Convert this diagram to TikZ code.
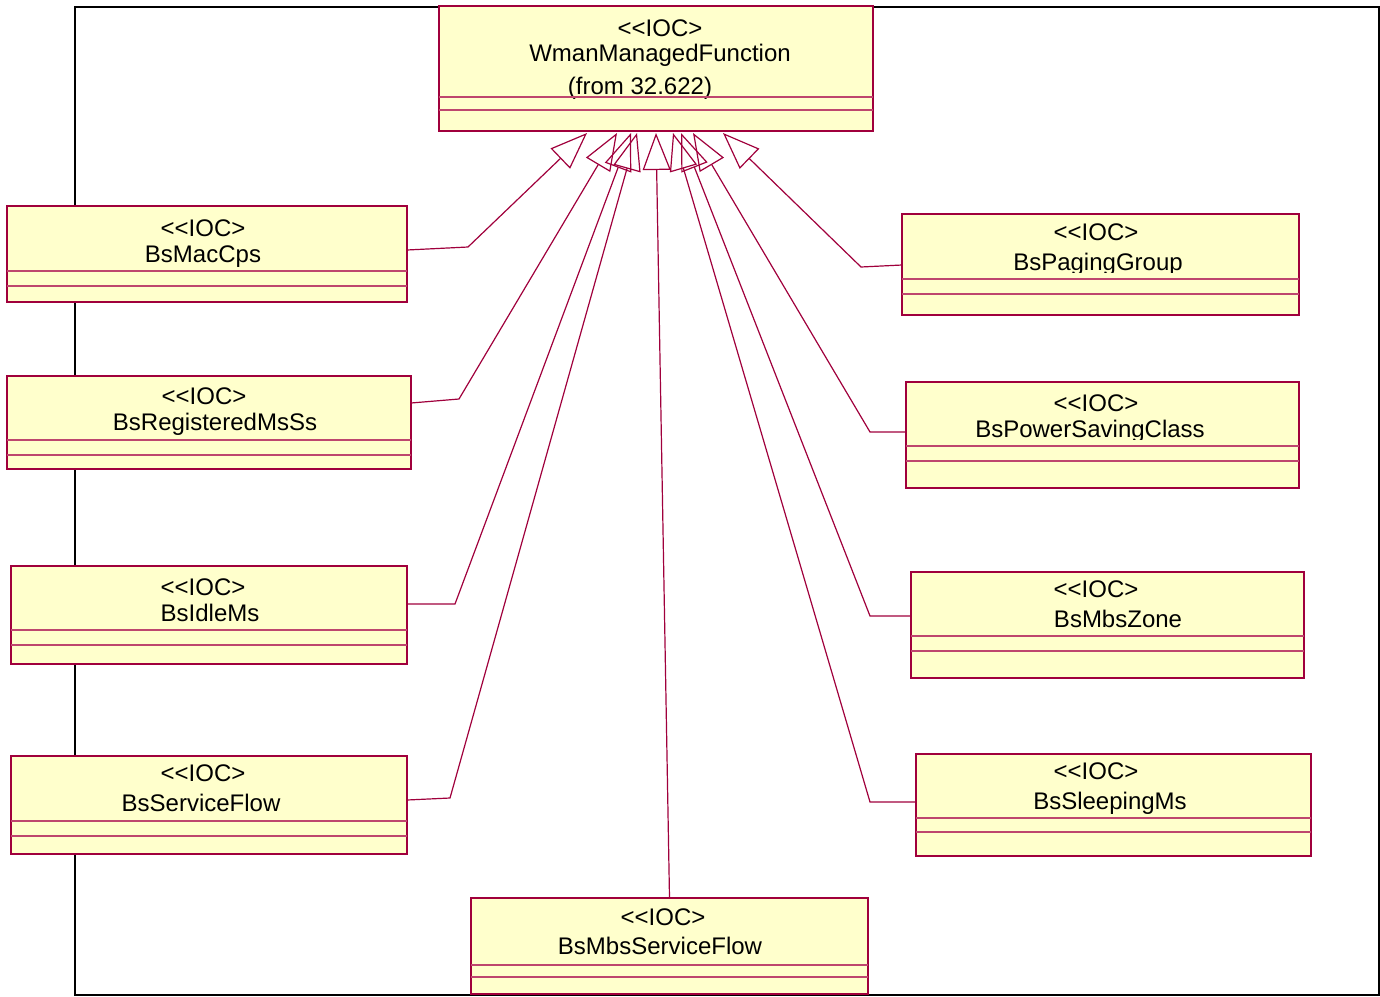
\documentclass[tikz,border=0pt]{standalone}
\usepackage{fontspec}
\setmainfont{Liberation Sans}
\usetikzlibrary{arrows.meta}
\definecolor{cr}{RGB}{160,0,60}
\definecolor{crl}{RGB}{190,70,110}
\definecolor{yel}{RGB}{255,255,204}
\newcommand\stereo{<{}<IOC>}
\begin{document}
\begin{tikzpicture}[x=1pt,y=-1pt,
  cls/.style={draw=cr, fill=yel, line width=1.4pt, rectangle, inner sep=0pt, outer sep=0pt, anchor=north west},
  txt/.style={anchor=base, inner sep=0pt, font=\fontsize{24}{28}\selectfont},
  sep/.style={draw=crl, line width=1.1pt},
  gen/.style={draw=cr, line width=1.2pt, -{Triangle[open, length=37pt, width=28pt]}},
  frame/.style={draw=black, line width=2pt}]
\useasboundingbox (0,0) rectangle (1380,996);
\draw[frame] (75,7) rectangle (1379,995);

% WmanManagedFunction
\node[cls, minimum width=434pt, minimum height=125pt] (wman) at (439,6) {};
\node[txt] (wman-s) at (660,36) {\stereo};
\node[txt] (wman-n) at (660,61) {WmanManagedFunction};
\node[txt] (wman-f) at (640,94) {(from 32.622)};
\draw[sep] (439,97) -- (873,97);
\draw[sep] (439,110) -- (873,110);

% BsMacCps
\node[cls, minimum width=400pt, minimum height=96pt] (mac) at (7,206) {};
\node[txt] (mac-s) at (203,236) {\stereo};
\node[txt] (mac-n) at (203,262) {BsMacCps};
\draw[sep] (7,271) -- (407,271);
\draw[sep] (7,286) -- (407,286);

% BsRegisteredMsSs
\node[cls, minimum width=404pt, minimum height=93pt] (reg) at (7,376) {};
\node[txt] (reg-s) at (204,404) {\stereo};
\node[txt] (reg-n) at (215,430) {BsRegisteredMsSs};
\draw[sep] (7,440) -- (411,440);
\draw[sep] (7,455) -- (411,455);

% BsIdleMs
\node[cls, minimum width=396pt, minimum height=98pt] (idle) at (11,566) {};
\node[txt] (idle-s) at (203,595) {\stereo};
\node[txt] (idle-n) at (210,621) {BsIdleMs};
\draw[sep] (11,630) -- (407,630);
\draw[sep] (11,645) -- (407,645);

% BsServiceFlow
\node[cls, minimum width=396pt, minimum height=98pt] (sf) at (11,756) {};
\node[txt] (sf-s) at (203,781) {\stereo};
\node[txt] (sf-n) at (201,811) {BsServiceFlow};
\draw[sep] (11,821) -- (407,821);
\draw[sep] (11,836) -- (407,836);

% BsMbsServiceFlow
\node[cls, minimum width=397pt, minimum height=96pt] (mbssf) at (471,898) {};
\node[txt] (mbssf-s) at (663,925) {\stereo};
\node[txt] (mbssf-n) at (660,954) {BsMbsServiceFlow};
\draw[sep] (471,965) -- (868,965);
\draw[sep] (471,977) -- (868,977);

% BsPagingGroup
\node[cls, minimum width=397pt, minimum height=101pt] (pag) at (902,214) {};
\node[txt] (pag-s) at (1096,240) {\stereo};
\begin{scope}
\clip (902,214) rectangle (1299,272);
\node[txt] (pag-n) at (1098,270) {BsPagingGroup};
\end{scope}
\draw[sep] (902,279) -- (1299,279);
\draw[sep] (902,294) -- (1299,294);

% BsPowerSavingClass
\node[cls, minimum width=393pt, minimum height=106pt] (pow) at (906,382) {};
\node[txt] (pow-s) at (1096,411) {\stereo};
\begin{scope}
\clip (906,382) rectangle (1299,439);
\node[txt] (pow-n) at (1090,437) {BsPowerSavingClass};
\end{scope}
\draw[sep] (906,446) -- (1299,446);
\draw[sep] (906,461) -- (1299,461);

% BsMbsZone
\node[cls, minimum width=393pt, minimum height=106pt] (zone) at (911,572) {};
\node[txt] (zone-s) at (1096,597) {\stereo};
\node[txt] (zone-n) at (1118,627) {BsMbsZone};
\draw[sep] (911,636) -- (1304,636);
\draw[sep] (911,651) -- (1304,651);

% BsSleepingMs
\node[cls, minimum width=395pt, minimum height=102pt] (sleep) at (916,754) {};
\node[txt] (sleep-s) at (1096,779) {\stereo};
\node[txt] (sleep-n) at (1110,809) {BsSleepingMs};
\draw[sep] (916,818) -- (1311,818);
\draw[sep] (916,832) -- (1311,832);

% arrow tips and elbows
\coordinate (t1) at (587,133);
\coordinate (t2) at (617,133);
\coordinate (t3) at (631,133);
\coordinate (t4) at (637,133);
\coordinate (t5) at (656,133);
\coordinate (t6) at (673,133);
\coordinate (t7) at (681,133);
\coordinate (t8) at (693,133);
\coordinate (t9) at (723,133);
\coordinate (e1) at (468,247);
\coordinate (e2) at (459,399);
\coordinate (e3) at (455,604);
\coordinate (e4) at (450,798);
\coordinate (e6) at (870,802);
\coordinate (e7) at (870,616);
\coordinate (e8) at (870,432);
\coordinate (e9) at (861,267);

\draw[gen] ([yshift=-44pt]mac.north east) -- (e1) -- (t1);
\draw[gen] ([yshift=-27pt]reg.north east) -- (e2) -- (t2);
\draw[gen] ([yshift=-38pt]idle.north east) -- (e3) -- (t3);
\draw[gen] ([yshift=-44pt]sf.north east) -- (e4) -- (t4);
\draw[gen] (mbssf.north) -- (t5);
\draw[gen] ([yshift=-48pt]sleep.north west) -- (e6) -- (t6);
\draw[gen] ([yshift=-44pt]zone.north west) -- (e7) -- (t7);
\draw[gen] ([yshift=-50pt]pow.north west) -- (e8) -- (t8);
\draw[gen] ([yshift=-51pt]pag.north west) -- (e9) -- (t9);
\end{tikzpicture}
\end{document}
